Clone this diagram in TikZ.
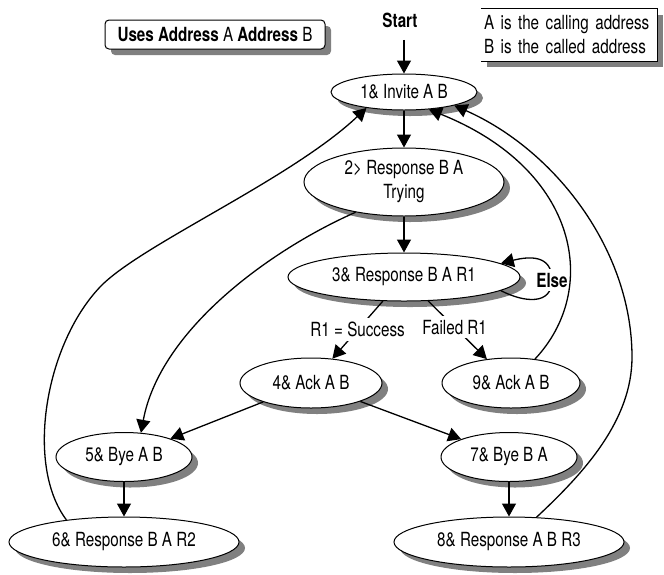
\documentclass[tikz,border=0pt]{standalone}
\usepackage{fontspec}
\setmainfont{TeX Gyre Heros}[FakeStretch=0.78]
\usepackage{tikz}
\usetikzlibrary{shapes.geometric,shadows,arrows.meta}

\begin{document}
\begin{tikzpicture}[x=1pt,y=-1pt,font=\fontsize{19.5}{24}\selectfont,
    >={Triangle[length=13pt,width=14pt]},
    grayshadow/.style={drop shadow={shadow xshift=6pt,shadow yshift=-6pt,opacity=1,fill=gray}},
    callstate/.style={ellipse,draw,line width=1pt,fill=white,inner sep=0pt,align=center,grayshadow},
    link/.style={->,line width=1.3pt}]
    \useasboundingbox (0,0) rectangle (664,574);

    \node[draw,line width=1pt,fill=white,rounded corners=4pt,minimum width=220pt,minimum height=29pt,grayshadow] (Uses) at (215,34.5) {\textbf{Uses Address} A \textbf{Address} B};
    \node[fill=white,text width=170pt,inner xsep=3pt,minimum height=52pt,align=left,grayshadow] (Legend) at (569,35) {A is the calling address\\B is the called address};
    \draw[line width=1pt] (Legend.north west) -- (Legend.north east) -- (Legend.south east) -- (Legend.south west);

    \node[font=\fontsize{19.5}{24}\selectfont\bfseries] (Start) at (400,20) {Start};
    \node[callstate,minimum width=146pt,minimum height=36pt] (S1) at (404,92) {1\& Invite A B};
    \node[callstate,minimum width=200pt,minimum height=68pt] (S2) at (404,182) {2> Response B A\\Trying};
    \node[callstate,minimum width=232pt,minimum height=48pt] (S3) at (404,277) {3\& Response B A R1};
    \node[callstate,minimum width=142pt,minimum height=50pt] (S4) at (311,383) {4\& Ack A B};
    \node[callstate,minimum width=138pt,minimum height=50pt] (S9) at (511,383) {9\& Ack A B};
    \node[callstate,minimum width=136pt,minimum height=49pt] (S5) at (124,457) {5\& Bye A B};
    \node[callstate,minimum width=136pt,minimum height=49pt] (S7) at (509,457) {7\& Bye B A};
    \node[callstate,minimum width=230pt,minimum height=50pt] (S6) at (124,542) {6\& Response B A R2};
    \node[callstate,minimum width=230pt,minimum height=50pt] (S8) at (509,542) {8\& Response A B R3};

    \draw[link,shorten <=9pt] (S1 |- Start.south) -- (S1);
    \draw[link] (S1) -- (S2);
    \draw[link] (S2) -- (S3);
    \draw[link] (S3) -- node[fill=white,inner sep=4pt] {R1 = Success} (S4);
    \draw[link] (S3) -- node[fill=white,inner sep=4pt,pos=0.45] {Failed R1} (S9);
    \draw[link] (S3.-8) .. controls (525,303) and (552,305) .. (552,280)
        node[fill=white,font=\fontsize{19.5}{24}\selectfont\bfseries] (Else) {Else}
        .. controls (552,255) and (530,256) .. (S3.8);
    \draw[link] (S2.212) .. controls (270,250) and (160,330) .. (S5.55);
    \draw[link] (S4) -- (S5);
    \draw[link] (S4) -- (S7);
    \draw[link] (S5) -- (S6);
    \draw[link] (S7) -- (S8);
    \draw[link] (S6.159) .. controls (25,465) and (45,345) .. (100,287)
        .. controls (140,245) and (290,180) .. (S1.203);
    \draw[link] (S9.45) .. controls (600,290) and (580,170) .. (S1.325);
    \draw[link] (S8.42) .. controls (585,472) and (632,420) .. (632,357)
        .. controls (632,250) and (555,150) .. (S1.345);
\end{tikzpicture}
\end{document}
